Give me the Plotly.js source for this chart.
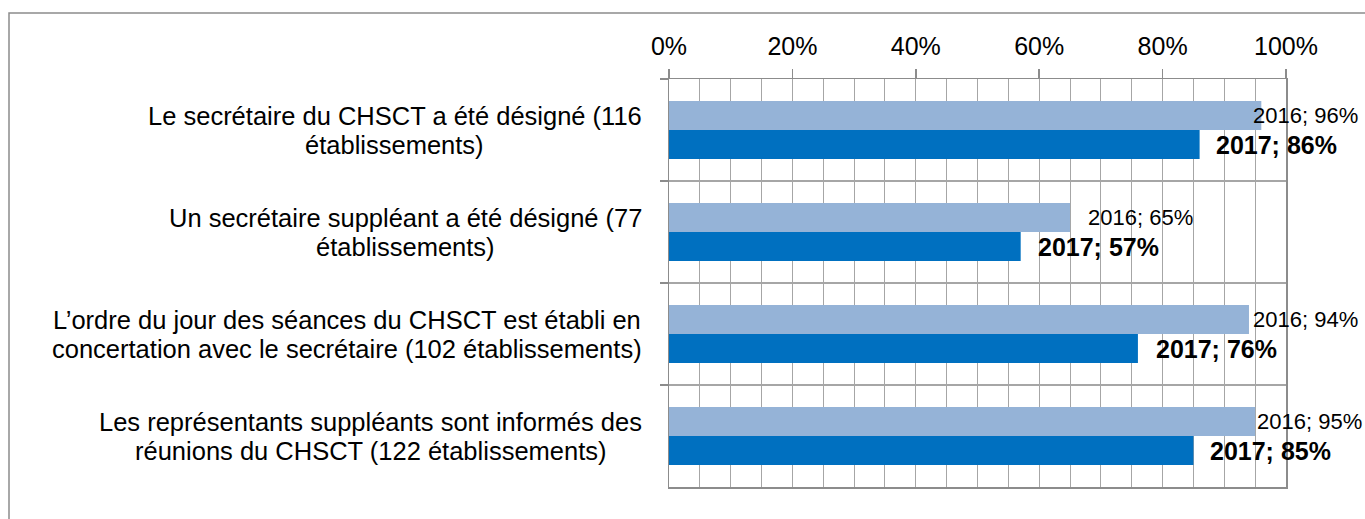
<!DOCTYPE html>
<html>
<head>
<meta charset="utf-8">
<script src="https://cdn.plot.ly/plotly-3.0.1.min.js"></script>
<style>
  html, body { margin: 0; padding: 0; background: #fff; }
  #chart { width: 1365px; height: 519px; }
</style>
</head>
<body>
<div id="chart"></div>
<script>
// category labels, each as its two lines
const categories = [
  ['Le secrétaire du CHSCT a été désigné (116', 'établissements)'],
  ['Un secrétaire suppléant a été désigné (77', 'établissements)'],
  ['L’ordre du jour des séances du CHSCT est établi en', 'concertation avec le secrétaire (102 établissements)'],
  ['Les représentants suppléants sont informés des', 'réunions du CHSCT (122 établissements)']
];
const values2016 = [0.96, 0.65, 0.94, 0.95];
const values2017 = [0.86, 0.57, 0.76, 0.85];
const xTickVals = [0, 0.2, 0.4, 0.6, 0.8, 1];
const xTickText = ['0%', '20%', '40%', '60%', '80%', '100%'];

// small pixel nudges of the data labels, as placed in the original
const nudge2016 = [-10, 16, 2, 0];
const nudge2017 = [14, 15, 16, 15];

const FONT = 'Arial, "Liberation Sans", sans-serif';
const GRID = '#a6a6a6';
const LINE = '#8c8c8c';

// one key per category for the y axis
const catKeys = categories.map(function(c) { return c.join(' '); });

// measure text widths so each two-line label is centred as a block
const ctx = document.createElement('canvas').getContext('2d');
ctx.font = '25.5px "Liberation Sans"';
function textWidth(s) { return ctx.measureText(s).width; }

const trace2016 = {
  type: 'bar', orientation: 'h', name: '2016',
  x: values2016, y: catKeys,
  marker: { color: '#95b3d7' },
  hoverinfo: 'skip'
};
const trace2017 = {
  type: 'bar', orientation: 'h', name: '2017',
  x: values2017, y: catKeys,
  marker: { color: '#0070c0' },
  hoverinfo: 'skip'
};

let annotations = [];

// category labels on the left (two lines each, block right-aligned)
for (let i = 0; i < categories.length; i++) {
  let w = Math.max(textWidth(categories[i][0]), textWidth(categories[i][1]));
  for (let j = 0; j < 2; j++) {
    annotations.push({
      xref: 'paper', x: 0, xanchor: 'center', xshift: -(27 + w / 2),
      yref: 'y', y: catKeys[i], yshift: j === 0 ? 14.5 : -14.5,
      yanchor: 'middle',
      text: categories[i][j], showarrow: false,
      font: { family: FONT, size: 25.5, color: '#000' }
    });
  }
}

// data labels
for (let i = 0; i < catKeys.length; i++) {
  annotations.push({
    x: values2016[i], y: catKeys[i], xanchor: 'left', yanchor: 'middle',
    xshift: nudge2016[i], yshift: 15,
    text: '2016; ' + Math.round(values2016[i] * 100) + '%', showarrow: false,
    font: { family: FONT, size: 22, color: '#000' }
  });
  annotations.push({
    x: values2017[i], y: catKeys[i], xanchor: 'left', yanchor: 'middle',
    xshift: nudge2017[i], yshift: -15,
    text: '<b>2017; ' + Math.round(values2017[i] * 100) + '%</b>', showarrow: false,
    font: { family: FONT, size: 25, color: '#000' }
  });
}

const layout = {
  width: 1365, height: 519,
  margin: { l: 669, r: 79, t: 79, b: 32 },
  paper_bgcolor: '#fff', plot_bgcolor: '#fff',
  showlegend: false,
  barmode: 'group', bargap: 0.43, bargroupgap: 0,
  font: { family: FONT, color: '#000' },
  xaxis: {
    side: 'top', range: [0, 1], fixedrange: true,
    tickvals: xTickVals, ticktext: xTickText,
    ticks: 'outside', ticklen: 9, tickcolor: LINE, tickwidth: 1.5,
    ticklabelstandoff: 4,
    tickfont: { family: FONT, size: 25, color: '#000' },
    showgrid: true, gridcolor: GRID, gridwidth: 1,
    minor: { dtick: 0.05, showgrid: true, gridcolor: GRID, gridwidth: 1, ticks: '' },
    showline: true, mirror: true, linecolor: LINE, linewidth: 1.5,
    zeroline: false
  },
  yaxis: {
    type: 'category', categoryorder: 'array', categoryarray: catKeys,
    range: [3.5, -0.5], fixedrange: true,
    tickson: 'boundaries', ticks: 'outside', ticklen: 8, tickcolor: LINE, tickwidth: 1.5,
    showticklabels: false,
    showgrid: true, gridcolor: GRID, gridwidth: 1.5,
    showline: true, mirror: true, linecolor: LINE, linewidth: 1.5,
    zeroline: false
  },
  annotations: annotations,
  shapes: [{
    // outer chart frame
    type: 'rect', xref: 'paper', yref: 'paper',
    x0: (9 - 669) / 617, x1: (1375 - 669) / 617,
    y0: (487 - 530) / 408, y1: 1 + (79 - 13) / 408,
    line: { color: LINE, width: 1.5 }, fillcolor: 'rgba(0,0,0,0)', layer: 'below'
  }]
};

Plotly.newPlot('chart', [trace2016, trace2017], layout, { displayModeBar: false, staticPlot: true });
</script>
</body>
</html>
